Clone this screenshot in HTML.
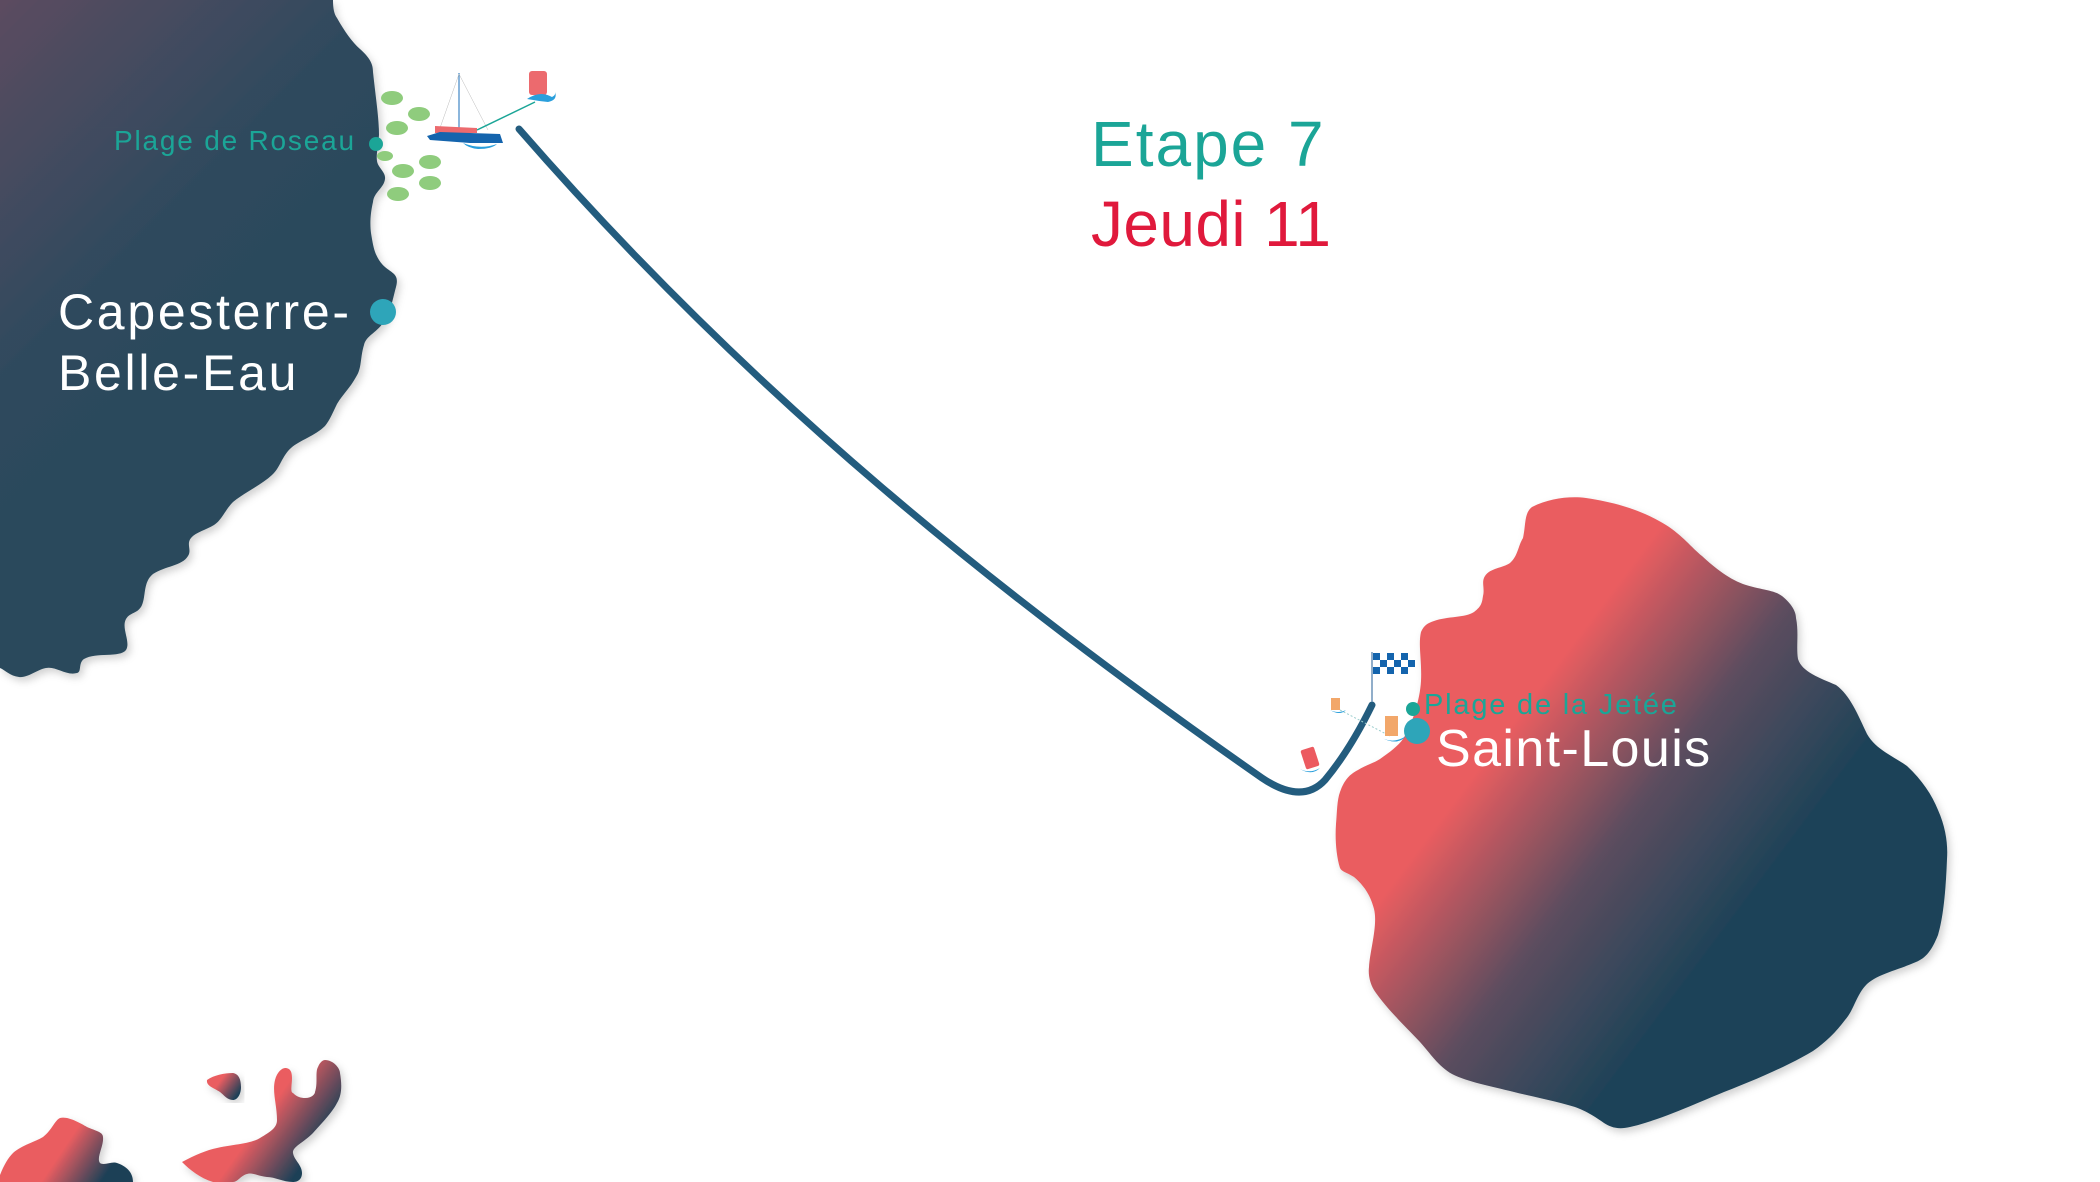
<!DOCTYPE html>
<html><head><meta charset="utf-8"><style>
html,body{margin:0;padding:0;background:#fff;}
svg{display:block;}
text{font-family:"Liberation Sans",sans-serif;}
</style></head><body>
<svg width="2100" height="1182" viewBox="0 0 2100 1182" xmlns="http://www.w3.org/2000/svg">
<defs>
<linearGradient id="gl" gradientUnits="userSpaceOnUse" x1="0" y1="0" x2="320" y2="320">
<stop offset="0" stop-color="#5c4c60"/><stop offset="0.6" stop-color="#2e4a5d"/><stop offset="1" stop-color="#2a4a5c"/></linearGradient>
<linearGradient id="gs" gradientUnits="userSpaceOnUse" x1="1500" y1="740" x2="1740" y2="920">
<stop offset="0" stop-color="#ea5d61"/><stop offset="0.5" stop-color="#5c4d5e"/><stop offset="1" stop-color="#1c4258"/></linearGradient>
<linearGradient id="gb1" gradientUnits="userSpaceOnUse" x1="50" y1="1130" x2="110" y2="1170">
<stop offset="0.3" stop-color="#ea5d61"/><stop offset="1" stop-color="#1a4057"/></linearGradient>
<linearGradient id="gb2" gradientUnits="userSpaceOnUse" x1="230" y1="1120" x2="300" y2="1170">
<stop offset="0.3" stop-color="#ea5d61"/><stop offset="1" stop-color="#1a4057"/></linearGradient>
<linearGradient id="gb3" gradientUnits="userSpaceOnUse" x1="215" y1="1078" x2="238" y2="1095">
<stop offset="0.2" stop-color="#ea5d61"/><stop offset="1" stop-color="#1a4057"/></linearGradient>
<filter id="sh" x="-10%" y="-10%" width="120%" height="120%"><feDropShadow dx="3" dy="4" stdDeviation="4" flood-color="#000" flood-opacity="0.18"/></filter>
</defs>

<path filter="url(#sh)" fill="url(#gl)" d="M0,0 L333,0 C333,8 334,14 337,18 C345,32 352,42 360,49 C370,58 373,64 373,72 C376,100 379,118 379,135 C378,148 376,155 377,161 C378,168 386,172 385,179 C384,188 374,192 373,202 C370,215 370,225 371,233 C373,245 374,252 379,260 C384,268 390,270 394,274 C398,278 397,283 396,287 C392,302 390,315 383,323 C376,333 366,336 364,345 C360,358 362,368 356,377 C350,388 343,394 337,404 C333,412 330,420 325,426 C315,436 300,440 291,448 C282,456 280,468 272,475 C260,486 245,492 233,502 C225,510 222,520 214,525 C206,530 196,532 191,538 C186,544 192,550 188,556 C182,566 165,566 153,574 C143,582 146,596 142,605 C138,614 130,612 126,619 C121,628 131,642 126,650 C120,658 96,652 84,659 C78,663 82,672 77,673 C66,676 56,666 46,668 C36,670 28,678 19,677 C10,676 5,670 0,668 Z"/>

<path filter="url(#sh)" fill="url(#gs)" d="M1532,507 C1550,498 1570,496 1586,498 C1620,503 1645,512 1666,525 C1682,535 1692,548 1702,556 C1715,568 1730,580 1746,585 C1762,590 1774,590 1782,596 C1792,604 1796,612 1796,618 C1799,632 1796,648 1798,659 C1802,672 1820,678 1836,685 C1850,695 1858,715 1867,734 C1876,750 1895,757 1907,766 C1922,780 1932,795 1938,810 C1946,828 1948,845 1947,859 C1946,885 1944,915 1938,935 C1932,950 1926,958 1916,962 C1898,970 1878,974 1867,984 C1856,995 1854,1010 1845,1020 C1836,1032 1826,1042 1813,1051 C1790,1065 1755,1080 1724,1092 C1690,1106 1660,1120 1630,1127 C1618,1130 1610,1127 1604,1123 C1590,1113 1580,1108 1568,1105 C1550,1100 1530,1096 1514,1092 C1490,1086 1468,1082 1452,1074 C1438,1066 1430,1053 1420,1042 C1405,1026 1388,1010 1376,993 C1370,985 1368,975 1369,967 C1370,950 1378,925 1374,909 C1370,893 1362,884 1354,877 C1346,872 1342,872 1340,868 C1336,855 1335,838 1336,824 C1337,812 1337,800 1340,792 C1344,780 1350,774 1358,770 C1366,765 1374,763 1380,759 C1390,752 1398,746 1403,739 C1412,725 1420,700 1421,681 C1422,660 1418,645 1421,632 C1424,625 1428,623 1434,621 C1448,616 1465,618 1474,612 C1482,606 1482,602 1483,596 C1485,588 1481,582 1485,576 C1490,568 1503,568 1510,563 C1518,556 1518,546 1523,538 C1526,525 1524,513 1532,507 Z"/>

<path filter="url(#sh)" fill="url(#gb1)" d="M0,1182 L0,1175 C4,1165 8,1158 13,1153 C22,1145 35,1142 43,1137 C52,1130 55,1120 60,1118 C68,1116 80,1123 87,1127 C96,1131 103,1132 103,1137 C104,1146 96,1158 100,1163 C104,1166 112,1161 117,1163 C126,1166 133,1172 133,1182 Z"/>
<path filter="url(#sh)" fill="url(#gb2)" d="M182,1162 C195,1155 207,1150 217,1148 C235,1144 250,1144 260,1138 C270,1132 277,1128 277,1120 C277,1105 272,1092 275,1080 C277,1072 282,1068 285,1068 C291,1068 292,1073 292,1078 C292,1085 290,1092 293,1093 C297,1097 301,1098 305,1098 C312,1098 315,1094 315,1092 C318,1083 315,1072 318,1067 C320,1062 323,1060 325,1060 C333,1060 340,1068 340,1073 C342,1085 342,1095 337,1103 C332,1113 320,1125 313,1133 C303,1143 292,1147 293,1153 C294,1160 302,1165 302,1173 C302,1180 297,1182 293,1182 C283,1182 275,1177 267,1177 C258,1176 252,1172 247,1174 C240,1176 238,1182 233,1182 L213,1182 C200,1178 190,1170 182,1162 Z"/>
<path filter="url(#sh)" fill="url(#gb3)" d="M207,1080 C214,1075 225,1073 233,1073 C239,1074 241,1080 241,1087 C241,1095 237,1100 233,1100 C227,1100 224,1095 220,1092 C214,1088 206,1086 207,1080 Z"/>

<path d="M519,129 C755,400 1000,595 1262,778 Q1302,805 1325,780 Q1350,750 1372,705" fill="none" stroke="#235c7e" stroke-width="7" stroke-linecap="round"/>

<g fill="#8fcc7d">
<ellipse cx="392" cy="98" rx="11" ry="7"/><ellipse cx="419" cy="114" rx="11" ry="7"/><ellipse cx="397" cy="128" rx="11" ry="7"/>
<ellipse cx="385" cy="156" rx="8" ry="5"/><ellipse cx="430" cy="162" rx="11" ry="7"/><ellipse cx="403" cy="171" rx="11" ry="7"/>
<ellipse cx="430" cy="183" rx="11" ry="7"/><ellipse cx="398" cy="194" rx="11" ry="7"/>
</g>

<line x1="459" y1="73" x2="459" y2="130" stroke="#3f85c4" stroke-width="1.2"/>
<line x1="459" y1="74" x2="440" y2="128" stroke="#bbb" stroke-width="0.5"/>
<line x1="459" y1="74" x2="488" y2="130" stroke="#bbb" stroke-width="0.5"/>
<path d="M435,126 L477,128 L477,133 L435,133 Z" fill="#ec6a6e"/>
<path d="M427,136 L440,132 L500,134 L503,143 L470,143 L430,140 Z" fill="#1464ad"/>
<path d="M463,143 Q480,150 497,144 Q492,149 478,149 Q468,148 463,143 Z" fill="#2a9fdc"/>
<line x1="477" y1="130" x2="535" y2="102" stroke="#1ba597" stroke-width="1.5"/>
<rect x="529" y="71" width="18" height="24" rx="3" fill="#ec6a6e"/>
<path d="M527,99 Q540,90 552,97 Q556,95 555,92 Q558,100 548,102 Q538,101 527,99 Z" fill="#2a9fdc"/>

<line x1="1372" y1="652" x2="1372" y2="702" stroke="#6c93b8" stroke-width="1.5"/>
<g fill="#1464ad">
<rect x="1373" y="653" width="42" height="21" fill="#fff"/>
<rect x="1373" y="653" width="7" height="7"/><rect x="1387" y="653" width="7" height="7"/><rect x="1401" y="653" width="7" height="7"/>
<rect x="1380" y="660" width="7" height="7"/><rect x="1394" y="660" width="7" height="7"/><rect x="1408" y="660" width="7" height="7"/>
<rect x="1373" y="667" width="7" height="7"/><rect x="1387" y="667" width="7" height="7"/><rect x="1401" y="667" width="7" height="7"/>
</g>
<line x1="1340" y1="710" x2="1390" y2="736" stroke="#9cc" stroke-width="1" stroke-dasharray="2,2"/>
<rect x="1331" y="698" width="9" height="12" fill="#f2a76a"/>
<path d="M1330,710 Q1338,714 1346,710 Q1340,716 1330,710 Z" fill="#2a9fdc"/>
<rect x="1385" y="716" width="13" height="20" fill="#f2a76a"/>
<path d="M1382,738 Q1394,744 1406,736 Q1398,746 1382,738 Z" fill="#2a9fdc"/>
<rect x="1303" y="748" width="14" height="20" rx="2" fill="#ec5a60" transform="rotate(-18 1310 758)"/>
<path d="M1300,769 Q1310,774 1320,768 Q1312,776 1300,769 Z" fill="#2a9fdc"/>

<circle cx="376" cy="144" r="7" fill="#1ba597"/>
<circle cx="383" cy="312" r="13" fill="#2ea5b9"/>
<circle cx="1413" cy="709" r="7" fill="#1ba597"/>
<circle cx="1417" cy="731" r="13" fill="#2ea5b9"/>

<text x="114" y="150" font-size="28" fill="#1ba597" letter-spacing="1.8">Plage de Roseau</text>
<text x="58" y="329" font-size="50" fill="#fff" letter-spacing="2.7">Capesterre-</text>
<text x="58" y="390" font-size="50" fill="#fff" letter-spacing="2.7">Belle-Eau</text>
<text x="1091" y="166" font-size="64" fill="#1ba597" letter-spacing="2">Etape 7</text>
<text x="1091" y="246" font-size="64" fill="#e0193c" letter-spacing="0.4">Jeudi 11</text>
<text x="1424" y="714" font-size="29" fill="#1ba597" letter-spacing="1.8">Plage de la Jetée</text>
<text x="1436" y="766" font-size="52" fill="#fff" letter-spacing="1.4">Saint-Louis</text>
</svg>
</body></html>
